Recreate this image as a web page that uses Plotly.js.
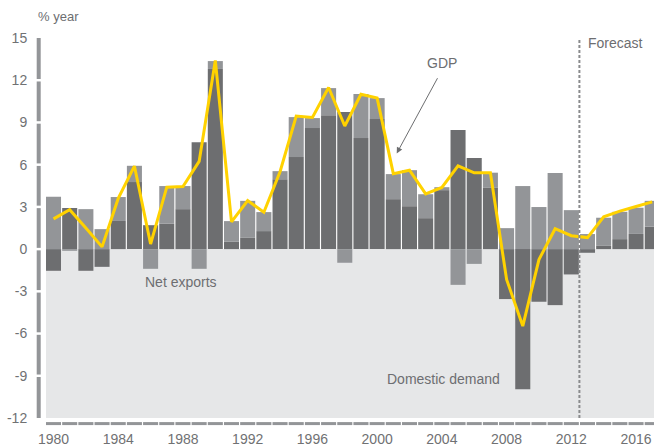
<!DOCTYPE html>
<html>
<head>
<meta charset="utf-8">
<script src="https://cdn.plot.ly/plotly-3.0.1.min.js"></script>
<style>html,body{margin:0;padding:0;background:#fff;}#chart{width:654px;height:447px;}</style>
</head>
<body>
<div id="chart"></div>
<script>
var years = [1980,1981,1982,1983,1984,1985,1986,1987,1988,1989,1990,1991,1992,1993,1994,1995,1996,1997,1998,1999,2000,2001,2002,2003,2004,2005,2006,2007,2008,2009,2010,2011,2012,2013,2014,2015,2016,2017];
var domesticDemand = [-1.54,2.92,-1.54,-1.26,2.0,4.76,1.7,1.8,2.84,7.6,12.8,0.52,0.8,1.28,4.97,6.54,8.6,9.52,9.74,7.89,9.24,3.55,3.05,2.2,4.19,8.46,6.47,4.35,-3.55,-9.95,-3.74,-3.98,-1.8,-0.26,0.23,0.71,1.08,1.59];
var netExports = [3.72,-0.12,2.84,1.42,1.7,1.16,-1.4,2.68,1.64,-1.4,0.56,1.47,2.63,1.35,0.57,2.84,0.71,1.92,-0.97,3.13,1.49,1.78,2.56,1.7,0.21,-2.54,-1.05,1.08,1.49,4.48,2.99,5.4,2.77,1.07,2.0,1.94,1.86,1.84];
var gdp = [2.15,2.8,1.5,0.16,3.6,5.9,0.36,4.4,4.45,6.23,13.4,1.94,3.45,2.62,5.5,9.45,9.36,11.48,8.75,11.0,10.73,5.36,5.61,3.92,4.38,5.92,5.42,5.42,-2.15,-5.47,-0.74,1.45,0.95,0.82,2.3,2.7,3.03,3.36];
var yTickVals = [-12,-9,-6,-3,0,3,6,9,12,15];
var yTickText = ['-12','-9','-6','-3','0','3','6','9','12','15'];
var xTickVals = [1980,1984,1988,1992,1996,2000,2004,2008,2012,2016];
var forecastStart = 2012.5;

var darkGrey = '#6d6e70', lightGrey = '#939598', bgGrey = '#e6e7e8', txt = '#6d6e71';
var FONT = 'Liberation Sans, Arial, sans-serif';

var traces = [
  {type:'bar', x:years, y:domesticDemand, marker:{color:darkGrey}, name:'Domestic demand', hoverinfo:'skip'},
  {type:'bar', x:years, y:netExports, marker:{color:lightGrey}, name:'Net exports', hoverinfo:'skip'},
  {type:'scatter', mode:'lines', x:years, y:gdp, line:{color:'#FFD200', width:3}, name:'GDP', hoverinfo:'skip'}
];

var shapes = [
  {type:'rect', xref:'paper', yref:'y', x0:0, x1:1, y0:-12, y1:0, fillcolor:bgGrey, line:{width:0}, layer:'below'},
  {type:'line', xref:'x', yref:'y', x0:forecastStart, x1:forecastStart, y0:-12, y1:15, line:{color:'#8a8b8d', width:2, dash:'3px,2px'}},
  {type:'line', xref:'paper', yref:'y', x0:-0.012, x1:-0.012, y0:-12, y1:15, line:{color:lightGrey, width:4}}
];
yTickVals.forEach(function(v){
  if (v > -12 && v < 15) shapes.push({type:'line', xref:'paper', yref:'y', x0:-0.02, x1:-0.004, y0:v, y1:v, line:{color:'#ffffff', width:2.5}});
});
years.forEach(function(yr){
  shapes.push({type:'line', xref:'x', yref:'paper', x0:yr-0.465, x1:yr+0.465, y0:-0.0147, y1:-0.0147, line:{color:lightGrey, width:3}});
});

var annotations = [
  {xref:'paper', yref:'paper', x:-0.0164, y:1.057, xanchor:'left', yanchor:'middle', text:'% year', showarrow:false, font:{family:FONT, size:13, color:txt}},
  {xref:'x', yref:'y', x:2004.0, y:13.2, text:'GDP', showarrow:false, font:{family:FONT, size:14, color:txt}},
  {xref:'x', yref:'y', x:2001.21, y:6.8, axref:'x', ayref:'y', ax:2003.78, ay:12.25, text:'', showarrow:true, arrowhead:2, arrowsize:1.2, arrowwidth:1, arrowcolor:'#6d6e70'},
  {xref:'x', yref:'y', x:2014.75, y:14.62, text:'Forecast', showarrow:false, font:{family:FONT, size:14, color:txt}},
  {xref:'x', yref:'y', x:1987.87, y:-2.37, text:'Net exports', showarrow:false, font:{family:FONT, size:14, color:txt}},
  {xref:'x', yref:'y', x:2004.12, y:-9.26, text:'Domestic demand', showarrow:false, font:{family:FONT, size:14, color:txt}}
];

var layout = {
  width:654, height:447,
  margin:{l:46, r:0, t:38, b:29, pad:0},
  paper_bgcolor:'#ffffff', plot_bgcolor:'#ffffff',
  barmode:'relative', bargap:0.07,
  showlegend:false,
  font:{family:FONT, size:14, color:'#707173'},
  xaxis:{range:[1979.536, 2017.11], tickvals:xTickVals, ticks:'outside', ticklen:8, tickcolor:'rgba(0,0,0,0)', showgrid:false, zeroline:false, showline:false, tickfont:{family:FONT, size:14, color:'#707173'}},
  yaxis:{range:[-12, 15], tickvals:yTickVals, ticktext:yTickText, ticks:'outside', ticklen:15, tickcolor:'rgba(0,0,0,0)', showgrid:false, zeroline:false, showline:false, tickfont:{family:FONT, size:14, color:'#707173'}},
  shapes:shapes,
  annotations:annotations
};

Plotly.newPlot('chart', traces, layout, {staticPlot:true, displayModeBar:false});
</script>
</body>
</html>
